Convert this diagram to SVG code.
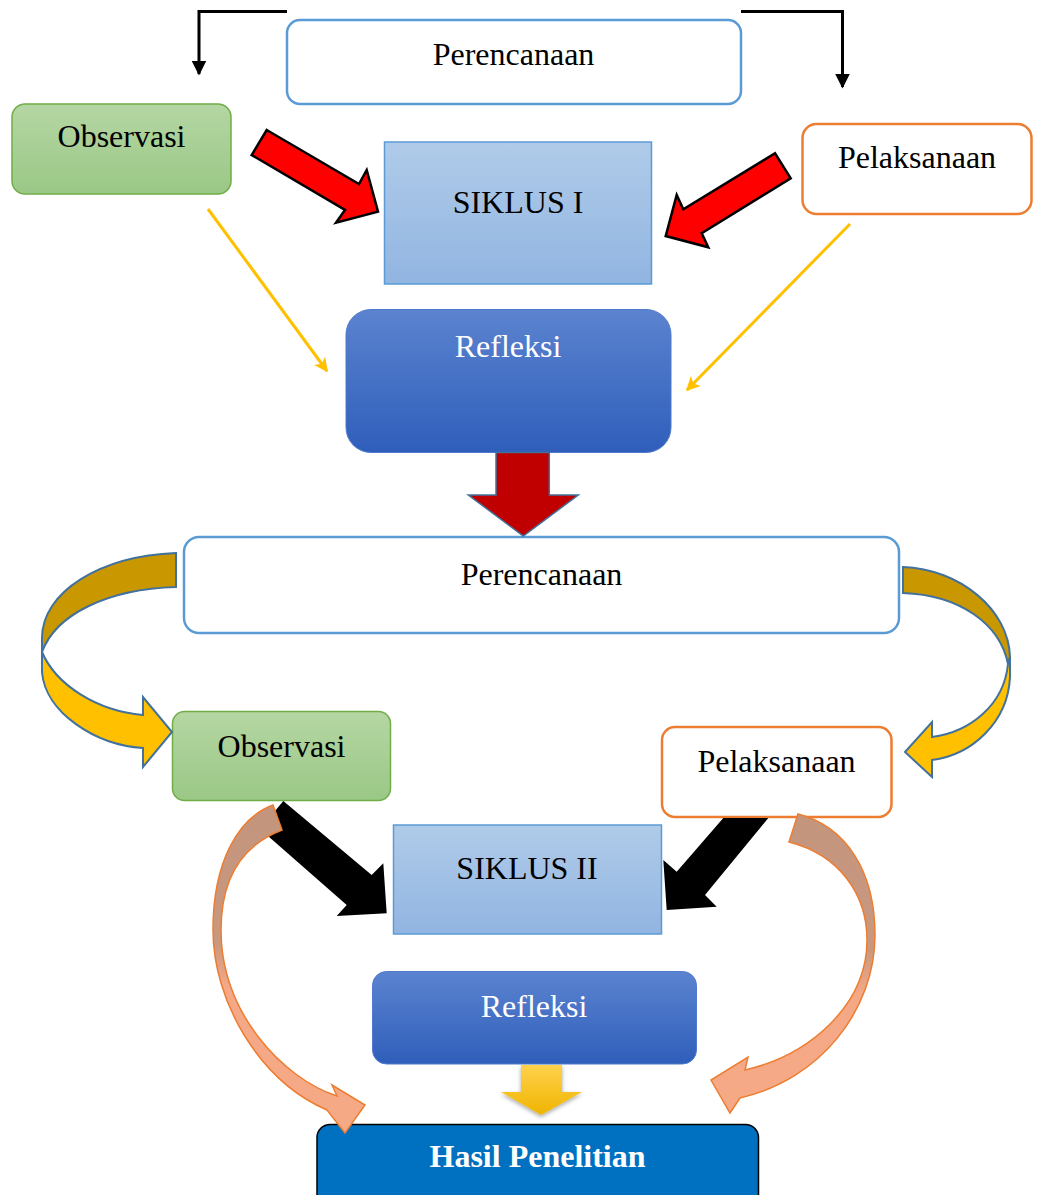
<svg xmlns="http://www.w3.org/2000/svg" width="1041" height="1195" viewBox="0 0 1041 1195">
<style>
.t{font-family:"Liberation Serif","Times New Roman",serif;font-size:32px;text-anchor:middle;fill:#000}
.w{fill:#fff}
.b{font-weight:bold}
.plan{fill:#fff;stroke:#5B9BD5;stroke-width:2.5}
.obs{fill:url(#gGreen);stroke:#70AD47;stroke-width:1.5}
.pel{fill:#fff;stroke:#ED7D31;stroke-width:2.5}
.sik{fill:url(#gSik);stroke:#5B9BD5;stroke-width:1.5}
.ref{fill:url(#gRef);stroke:#4F7ACB;stroke-width:1}
.blk{fill:none;stroke:#000;stroke-width:3}
.ylw{fill:none;stroke:#FFC000;stroke-width:3}
.red{fill:#FF0000;stroke:#000;stroke-width:2.5;stroke-linejoin:miter}
.uDark{fill:#C99700;stroke:#41719C;stroke-width:2}
.uLight{fill:#FFC000;stroke:#41719C;stroke-width:2}
.sal{stroke:#ED7D31;stroke-width:1.5}
</style>
<defs>
<linearGradient id="gGreen" x1="0" y1="0" x2="0" y2="1"><stop offset="0" stop-color="#B5D6A3"/><stop offset="1" stop-color="#9AC886"/></linearGradient>
<linearGradient id="gSik" x1="0" y1="0" x2="0" y2="1"><stop offset="0" stop-color="#B0CBE9"/><stop offset="1" stop-color="#91B5E1"/></linearGradient>
<linearGradient id="gRef" x1="0" y1="0" x2="0" y2="1"><stop offset="0" stop-color="#5B83CF"/><stop offset="1" stop-color="#2F5EBB"/></linearGradient>
<linearGradient id="gYel" x1="0" y1="0" x2="0" y2="1"><stop offset="0" stop-color="#FFD24D"/><stop offset="1" stop-color="#F0B400"/></linearGradient>
<linearGradient id="gSalL" gradientUnits="userSpaceOnUse" x1="0" y1="805" x2="0" y2="1133"><stop offset="0" stop-color="#C4957D"/><stop offset="0.42" stop-color="#C8987F"/><stop offset="0.55" stop-color="#F4A886"/><stop offset="1" stop-color="#F5A985"/></linearGradient>
<linearGradient id="gSalR" gradientUnits="userSpaceOnUse" x1="0" y1="814" x2="0" y2="1113"><stop offset="0" stop-color="#C4957D"/><stop offset="0.45" stop-color="#C8987F"/><stop offset="0.6" stop-color="#F4A886"/><stop offset="1" stop-color="#F5A985"/></linearGradient>
<marker id="mBlk" viewBox="0 0 10 10" refX="9" refY="5" markerUnits="userSpaceOnUse" markerWidth="15" markerHeight="15" orient="auto"><path d="M0,0 L10,5 L0,10 z" fill="#000"/></marker>
<marker id="mYel" viewBox="0 0 10 10" refX="9" refY="5" markerUnits="userSpaceOnUse" markerWidth="15" markerHeight="14" orient="auto"><path d="M0,0 L10,5 L0,10 L2.5,5 z" fill="#FFC000"/></marker>
<filter id="shadow" x="-30%" y="-30%" width="160%" height="160%"><feDropShadow dx="0" dy="2" stdDeviation="2" flood-color="#000" flood-opacity="0.35"/></filter>
</defs>
<rect width="1041" height="1195" fill="#fff"/>

<g id="nodes">
<g id="perencanaan1"><rect class="plan" x="287" y="20" width="454" height="84" rx="13"/><text class="t" x="513.5" y="65">Perencanaan</text></g>
<g id="observasi1"><rect class="obs" x="12" y="104" width="219" height="90" rx="13"/><text class="t" x="121.5" y="147">Observasi</text></g>
<g id="siklus1"><rect class="sik" x="384.5" y="142" width="267" height="142"/><text class="t" x="518" y="213">SIKLUS I</text></g>
<g id="pelaksanaan1"><rect class="pel" x="802.5" y="124" width="229" height="90" rx="14"/><text class="t" x="917" y="168">Pelaksanaan</text></g>
<g id="refleksi1"><rect class="ref" x="346" y="309.5" width="325" height="143" rx="25"/><text class="t w" x="508" y="357">Refleksi</text></g>
<g id="perencanaan2"><rect class="plan" x="184" y="537" width="715" height="96" rx="15"/><text class="t" x="541.5" y="585">Perencanaan</text></g>
<g id="observasi2"><rect class="obs" x="172.5" y="711.5" width="218" height="89" rx="12"/><text class="t" x="281.5" y="757">Observasi</text></g>
<g id="pelaksanaan2"><rect class="pel" x="662" y="727" width="229.5" height="90" rx="13"/><text class="t" x="776.5" y="772">Pelaksanaan</text></g>
<g id="siklus2"><rect class="sik" x="393.5" y="825" width="268" height="109"/><text class="t" x="527" y="879">SIKLUS II</text></g>
<g id="refleksi2"><rect class="ref" x="372.5" y="971.5" width="324" height="92.5" rx="14"/><text class="t w" x="534" y="1017">Refleksi</text></g>
<g id="hasil"><rect x="317" y="1124.5" width="441.5" height="95" rx="13" fill="#0070C0" stroke="#000" stroke-width="1.5"/><text class="t w b" x="537.5" y="1167">Hasil Penelitian</text></g>
</g>

<g id="connectors">
<path class="blk" d="M287,11.5 H199 V74" marker-end="url(#mBlk)"/>
<path class="blk" d="M741,11.5 H842.5 V87" marker-end="url(#mBlk)"/>
<polygon class="red" points="266.7,130 359,184 366.7,170 378,211.7 336,222.7 345,210 251.7,155"/>
<polygon class="red" points="775,153.3 683.3,209.3 676.7,195 665.7,236 708.3,247.3 701.7,233.3 790.7,178.3"/>
<line class="ylw" x1="208" y1="209" x2="327" y2="371" marker-end="url(#mYel)"/>
<line class="ylw" x1="850" y1="224" x2="687" y2="390" marker-end="url(#mYel)"/>
<polygon points="496,452.5 549.3,452.5 549.3,495 578.3,495 523.3,536 468.3,495 496,495" fill="#C00000" stroke="#41719C" stroke-width="1.5"/>
<path class="uDark" d="M176,553 C100,556 42,592 42,638 L42,652 C56,614 108,589 176,587 Z"/>
<path class="uLight" d="M42,638 L42,672 C45,712 95,745 143,748 L143,767 L172,732 L143,697 L143,715 C97,711 56,685 42,652 Z"/>
<path class="uDark" d="M903,567 C960,569 1009,610 1010,657 L1008,664 C1000,624 960,595 903,593 Z"/>
<path class="uLight" d="M1010,657 L1010,677 C1008,722 972,755 932,760 L932,777 L905,752 L932,722 L932,737 C970,732 1004,705 1008,664 Z"/>
<polygon points="283.3,801 371.7,875 383.3,863.3 386.7,913.3 336.7,916 346.7,905 260,829" fill="#000"/>
<polygon points="723.3,818 768.3,818 705,895 716.7,906.7 666.7,910 663.3,860 676.7,871.7" fill="#000"/>
<path class="sal" fill="url(#gSalL)" d="M273,805 C238,818 213,862 213,930 C213,1000 258,1080 327,1110 L345,1133 L365,1105 L332,1085 L337,1096 C282,1078 221,1012 221,930 C221,880 240,846 282,830 Z"/>
<path class="sal" fill="url(#gSalR)" d="M798,814 C845,826 875,870 875,935 C875,1010 820,1080 740,1098 L730,1113 L711,1080 L748,1057 L745,1070 C810,1055 867,1005 867,940 C867,895 840,855 789,842 Z"/>
<polygon points="521,1065 562,1065 562,1092 582,1092 541,1115 501,1092 521,1092" fill="url(#gYel)" filter="url(#shadow)"/>
</g>
</svg>
